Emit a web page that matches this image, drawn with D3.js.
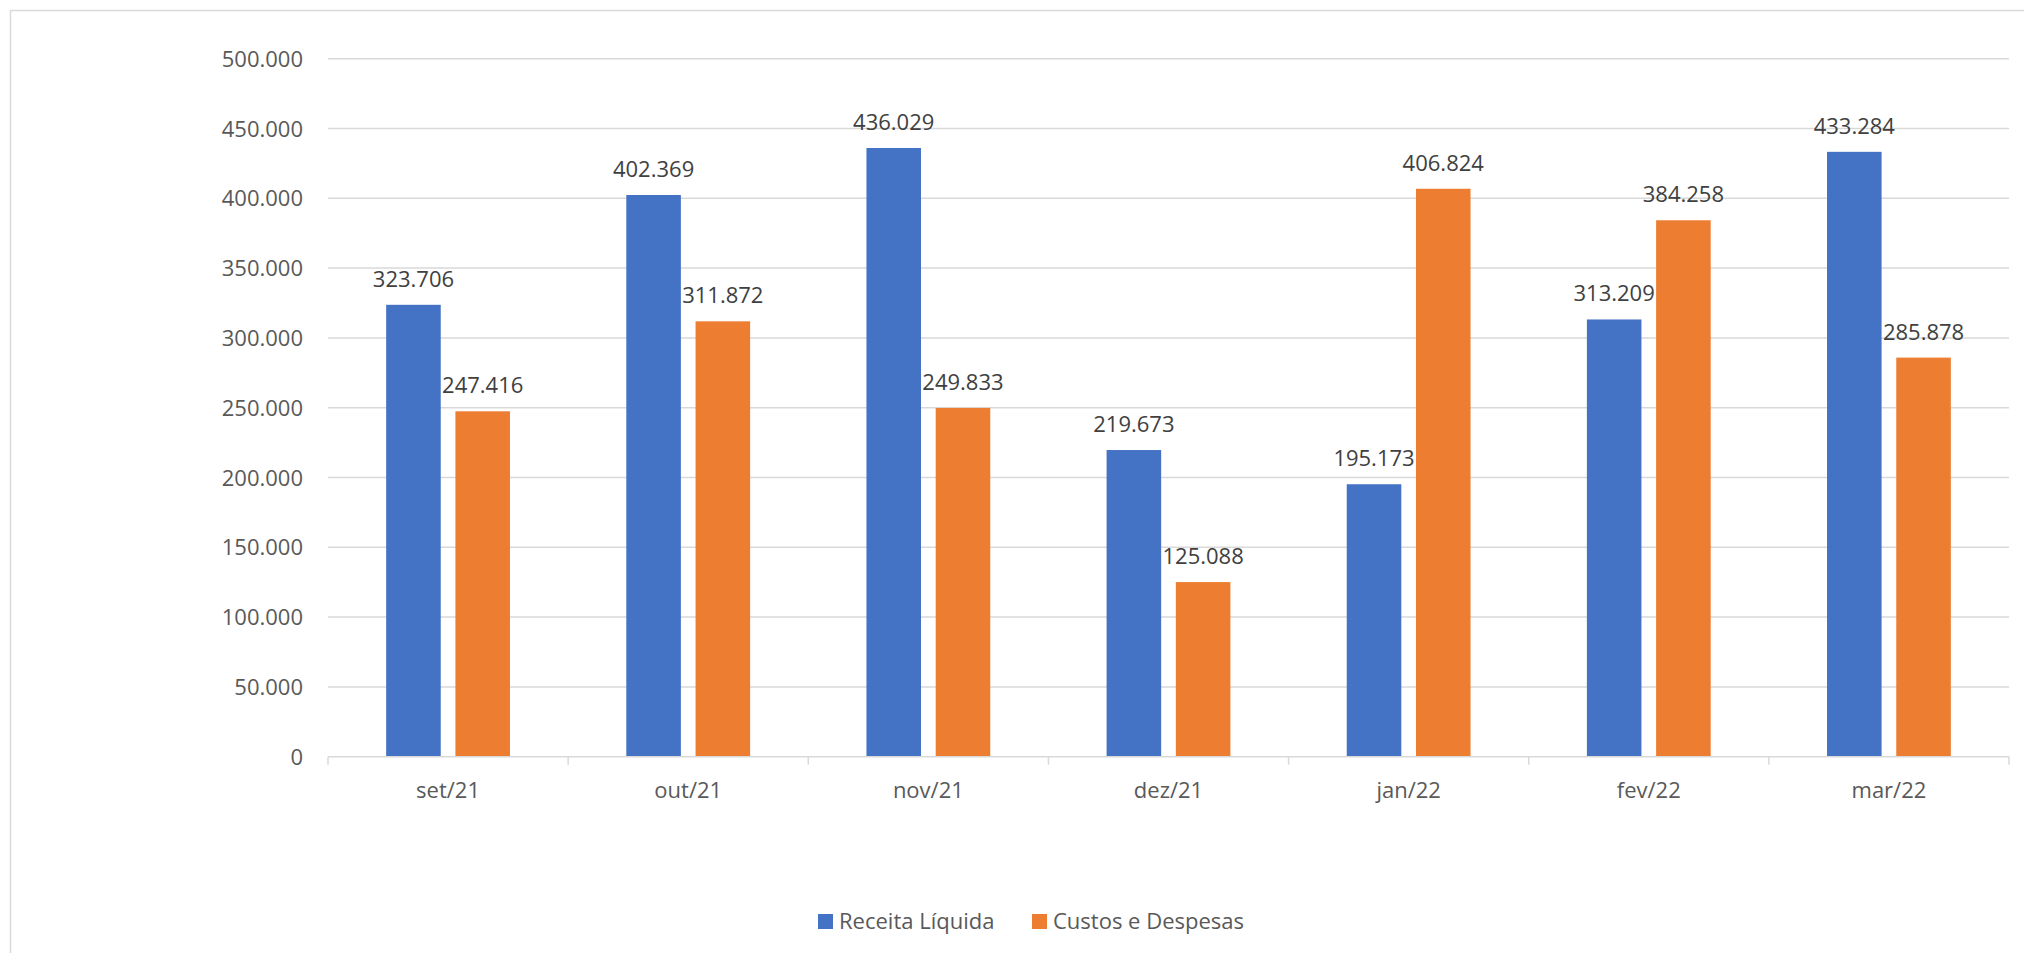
<!DOCTYPE html>
<html>
<head>
<meta charset="utf-8">
<script src="https://cdn.jsdelivr.net/npm/d3@7"></script>
<style>
  html, body { margin: 0; padding: 0; background: #fff; }
  #chart { width: 2024px; height: 953px; }
  text { font-family: "Open Sans", sans-serif; }
</style>
</head>
<body>
<div id="chart"></div>
<script>
const months = ["set/21", "out/21", "nov/21", "dez/21", "jan/22", "fev/22", "mar/22"];
const series = ["Receita Líquida", "Custos e Despesas"];
const receita = [323706, 402369, 436029, 219673, 195173, 313209, 433284];
const custos = [247416, 311872, 249833, 125088, 406824, 384258, 285878];
const yTicks = [0, 50000, 100000, 150000, 200000, 250000, 300000, 350000, 400000, 450000, 500000];
const colors = ["#4472C4", "#ED7D31"];

const width = 2024, height = 953;
const plotLeft = 328, plotRight = 2009, plotTop = 58.7, plotBottom = 756.7;

const svg = d3.select("#chart")
  .append("svg")
    .attr("width", width)
    .attr("height", height);

// outer frame of the chart area
svg.append("rect")
  .attr("x", 10.5).attr("y", 10.5)
  .attr("width", width + 20).attr("height", height + 20)
  .attr("fill", "none")
  .attr("stroke", "#d9d9d9")
  .attr("stroke-width", 1.5);

const y = d3.scaleLinear().domain([0, 500000]).range([plotBottom, plotTop]);
const x = d3.scaleBand().domain(months).range([plotLeft, plotRight]).padding(0);
const x1 = d3.scaleBand().domain(series).range([0, x.bandwidth()])
  .paddingInner(0.212).paddingOuter(0.84);

const fmt = v => d3.format(",")(v).replace(/,/g, ".");

// gridlines
svg.append("g")
  .selectAll("line")
  .data(yTicks.slice(1))
  .join("line")
    .attr("x1", plotLeft).attr("x2", plotRight)
    .attr("y1", d => y(d)).attr("y2", d => y(d))
    .attr("stroke", "#d9d9d9")
    .attr("stroke-width", 1.5);

// y tick labels
svg.append("g")
  .selectAll("text")
  .data(yTicks)
  .join("text")
    .attr("x", 303)
    .attr("y", d => y(d) + 8)
    .attr("text-anchor", "end")
    .attr("fill", "#595959")
    .style("font-size", "22px")
    .text(d => fmt(d));

// bars
const rows = months.map((m, i) => ({ month: m, values: [receita[i], custos[i]] }));

const groups = svg.append("g")
  .selectAll("g")
  .data(rows)
  .join("g")
    .attr("transform", d => `translate(${x(d.month)},0)`);

groups.selectAll("rect")
  .data(d => d.values.map((v, j) => ({ key: series[j], value: v, j })))
  .join("rect")
    .attr("x", d => x1(d.key))
    .attr("width", x1.bandwidth())
    .attr("y", d => y(d.value))
    .attr("height", d => y(0) - y(d.value))
    .attr("fill", d => colors[d.j]);

groups.selectAll("text")
  .data(d => d.values.map((v, j) => ({ key: series[j], value: v })))
  .join("text")
    .attr("x", d => x1(d.key) + x1.bandwidth() / 2)
    .attr("y", d => y(d.value) - 18)
    .attr("text-anchor", "middle")
    .attr("fill", "#404040")
    .style("font-size", "22px")
    .text(d => fmt(d.value));

// x axis line and ticks
svg.append("line")
  .attr("x1", plotLeft).attr("x2", plotRight)
  .attr("y1", plotBottom).attr("y2", plotBottom)
  .attr("stroke", "#d9d9d9")
  .attr("stroke-width", 1.5);

svg.append("g")
  .selectAll("line")
  .data(months.map(m => x(m)).concat([plotRight]))
  .join("line")
    .attr("x1", d => d).attr("x2", d => d)
    .attr("y1", plotBottom).attr("y2", plotBottom + 8)
    .attr("stroke", "#d9d9d9")
    .attr("stroke-width", 1.5);

svg.append("g")
  .selectAll("text")
  .data(months)
  .join("text")
    .attr("x", d => x(d) + x.bandwidth() / 2)
    .attr("y", 798)
    .attr("text-anchor", "middle")
    .attr("fill", "#595959")
    .style("font-size", "22px")
    .text(d => d);

// legend
const legendX = [818, 1032];
const legend = svg.append("g")
  .selectAll("g")
  .data(series)
  .join("g")
    .attr("transform", (d, i) => `translate(${legendX[i]},914)`);

legend.append("rect")
  .attr("width", 15).attr("height", 15)
  .attr("fill", (d, i) => colors[i]);

legend.append("text")
  .attr("x", 21)
  .attr("y", 15)
  .attr("fill", "#595959")
  .style("font-size", "22px")
  .text(d => d);
</script>
</body>
</html>
